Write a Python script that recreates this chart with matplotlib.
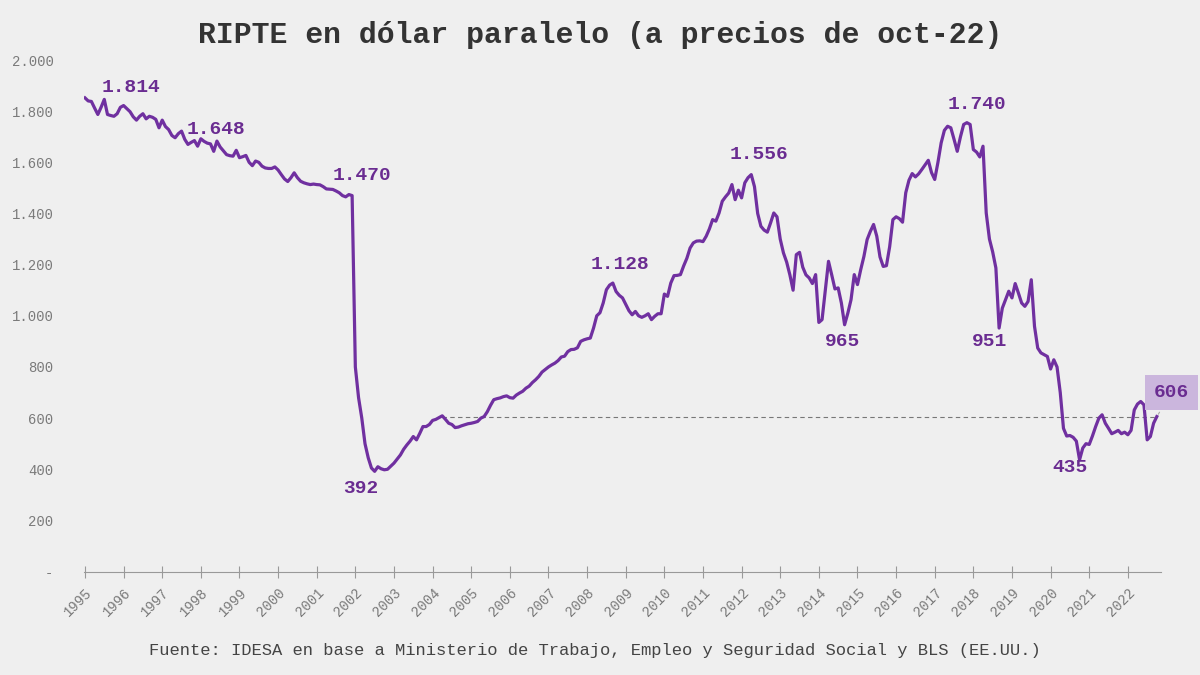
import matplotlib.pyplot as plt
import numpy as np

# --- DATA: RIPTE monthly, Jan 1995 - Oct 2022 (USD parallel, oct-22 prices) ---
FIRST_YEAR = 1995
RIPTE_BY_YEAR = {
    1995: [1852, 1840, 1838, 1812, 1787, 1815, 1846, 1787, 1783, 1780, 1790, 1815],
    1996: [1822, 1810, 1798, 1778, 1765, 1780, 1790, 1770, 1780, 1776, 1768, 1735],
    1997: [1765, 1740, 1728, 1705, 1696, 1712, 1722, 1690, 1670, 1678, 1685, 1663],
    1998: [1692, 1682, 1675, 1672, 1643, 1683, 1660, 1645, 1630, 1626, 1624, 1647],
    1999: [1618, 1622, 1627, 1600, 1587, 1605, 1600, 1585, 1578, 1576, 1576, 1582],
    2000: [1570, 1552, 1535, 1525, 1540, 1559, 1540, 1526, 1520, 1516, 1513, 1515],
    2001: [1513, 1512, 1505, 1496, 1495, 1494, 1488, 1481, 1470, 1465, 1474, 1470],
    2002: [800, 680, 600, 500, 445, 405, 392, 410, 402, 398, 400, 412],
    2003: [424, 440, 456, 478, 495, 510, 528, 515, 540, 567, 567, 575],
    2004: [591, 595, 602, 609, 595, 580, 575, 563, 565, 570, 574, 578],
    2005: [580, 583, 587, 600, 606, 625, 650, 672, 676, 679, 684, 687],
    2006: [680, 678, 690, 698, 705, 717, 725, 739, 750, 763, 780, 790],
    2007: [800, 808, 815, 825, 839, 842, 860, 868, 869, 875, 900, 906],
    2008: [910, 913, 952, 1000, 1012, 1050, 1102, 1120, 1128, 1095, 1080, 1070],
    2009: [1045, 1020, 1004, 1017, 1000, 994, 1000, 1008, 985, 998, 1008, 1008],
    2010: [1085, 1076, 1128, 1157, 1158, 1161, 1195, 1225, 1265, 1285, 1292, 1293],
    2011: [1290, 1311, 1340, 1376, 1370, 1402, 1448, 1465, 1480, 1513, 1454, 1491],
    2012: [1461, 1520, 1540, 1552, 1505, 1400, 1350, 1335, 1327, 1363, 1402, 1387],
    2013: [1300, 1246, 1210, 1160, 1100, 1239, 1248, 1190, 1160, 1148, 1126, 1161],
    2014: [974, 985, 1100, 1213, 1160, 1105, 1109, 1050, 965, 1010, 1063, 1161],
    2015: [1122, 1180, 1232, 1298, 1330, 1357, 1311, 1230, 1193, 1196, 1270, 1376],
    2016: [1387, 1380, 1366, 1481, 1530, 1556, 1543, 1555, 1572, 1590, 1608, 1560],
    2017: [1533, 1600, 1676, 1725, 1741, 1735, 1690, 1643, 1700, 1748, 1755, 1748],
    2018: [1650, 1640, 1621, 1663, 1402, 1300, 1250, 1187, 952, 1030, 1063, 1096],
    2019: [1070, 1126, 1089, 1050, 1037, 1056, 1141, 959, 874, 855, 848, 841],
    2020: [792, 828, 800, 700, 560, 530, 532, 525, 510, 437, 483, 500],
    2021: [497, 530, 567, 600, 613, 580, 560, 539, 545, 552, 539, 545],
    2022: [535, 552, 632, 655, 665, 652, 515, 528, 580, 606],
}

YEARS = list(range(1995, 2023))
Y_TICKS = [0, 200, 400, 600, 800, 1000, 1200, 1400, 1600, 1800, 2000]

# labelled points: (year, month index 0-11, text)
LABELS = [
    (1995, 6, '1.814'),
    (1998, 5, '1.648'),
    (2001, 11, '1.470'),
    (2002, 6, '392'),
    (2008, 8, '1.128'),
    (2012, 3, '1.556'),
    (2014, 8, '965'),
    (2017, 10, '1.740'),
    (2018, 8, '951'),
    (2020, 9, '435'),
]
# label offsets in pixels (styling)
LABEL_OFFSETS = [(27, 12), (-1, 12), (10, 20), (-14, -17), (7, 19),
                 (8, 20), (-2, -17), (10, 18), (-10, -13), (-10, -8)]

PURPLE = '#7030A0'
FONT = 'Liberation Mono'

values = [v for y in sorted(RIPTE_BY_YEAR) for v in RIPTE_BY_YEAR[y]]
months = np.arange(len(values))
last = values[-1]

plt.rcParams['font.family'] = [FONT, 'DejaVu Sans']

fig = plt.figure(figsize=(12, 6.75), dpi=100)
fig.patch.set_facecolor('#efefef')
ax = fig.add_axes([0.07, 0.1532, 0.8975, 0.7579])
ax.set_facecolor('none')

ax.plot(months, values, color=PURPLE, lw=2.3, solid_joinstyle='round', zorder=3)

# dashed reference at the latest value, from the first month it was reached
start = next(i for i, v in enumerate(values) if i > 100 and v >= last)
ax.hlines(last, start, months[-1], colors='#777777', linestyles=(0, (4, 3)), lw=0.8, zorder=2)

for (yr, mo, txt), (dx, dy) in zip(LABELS, LABEL_OFFSETS):
    i = (yr - FIRST_YEAR) * 12 + mo
    ax.annotate(txt, (i, values[i]), xytext=(dx, dy), textcoords='offset pixels',
                ha='center', va='center', fontsize=14, fontweight='bold',
                color='#6a2c91', zorder=5)

# last value box
ax.annotate(f'{last}', (months[-1], last), xytext=(15, 24), textcoords='offset pixels',
            ha='center', va='center', fontsize=14, fontweight='bold', color='#6a2c91',
            bbox=dict(boxstyle='square,pad=0.45', fc='#cbb6dd', ec='none'),
            arrowprops=dict(arrowstyle='-', color='#aaaaaa', lw=0.8),
            annotation_clip=False, zorder=6)

ax.set_xlim(-0.3, len(values) + 0.3)
ax.set_ylim(0, 2000)

ax.set_yticks(Y_TICKS)
ax.set_yticklabels(['-' if t == 0 else f'{t:,}'.replace(',', '.') for t in Y_TICKS])
ax.tick_params(axis='y', length=0, pad=22, labelsize=10, labelcolor='#7a7a7a')

ax.set_xticks([(y - FIRST_YEAR) * 12 for y in YEARS])
ax.set_xticklabels([str(y) for y in YEARS], rotation=45, ha='right', rotation_mode='anchor')
ax.tick_params(axis='x', direction='inout', length=8, width=0.8, color='#999999',
               labelsize=10, labelcolor='#7a7a7a', pad=6)

for s in ['top', 'right', 'left']:
    ax.spines[s].set_visible(False)
ax.spines['bottom'].set_color('#999999')
ax.spines['bottom'].set_linewidth(0.8)

fig.text(0.5, 0.948, 'RIPTE en dólar paralelo (a precios de oct-22)', ha='center', va='center',
         fontsize=21.4, fontweight='bold', color='#333333')
fig.text(0.496, 0.037, 'Fuente: IDESA en base a Ministerio de Trabajo, Empleo y Seguridad Social y BLS (EE.UU.)',
         ha='center', va='center', fontsize=12.3, color='#444444')

fig.savefig('out.png', dpi=100, facecolor=fig.get_facecolor())
